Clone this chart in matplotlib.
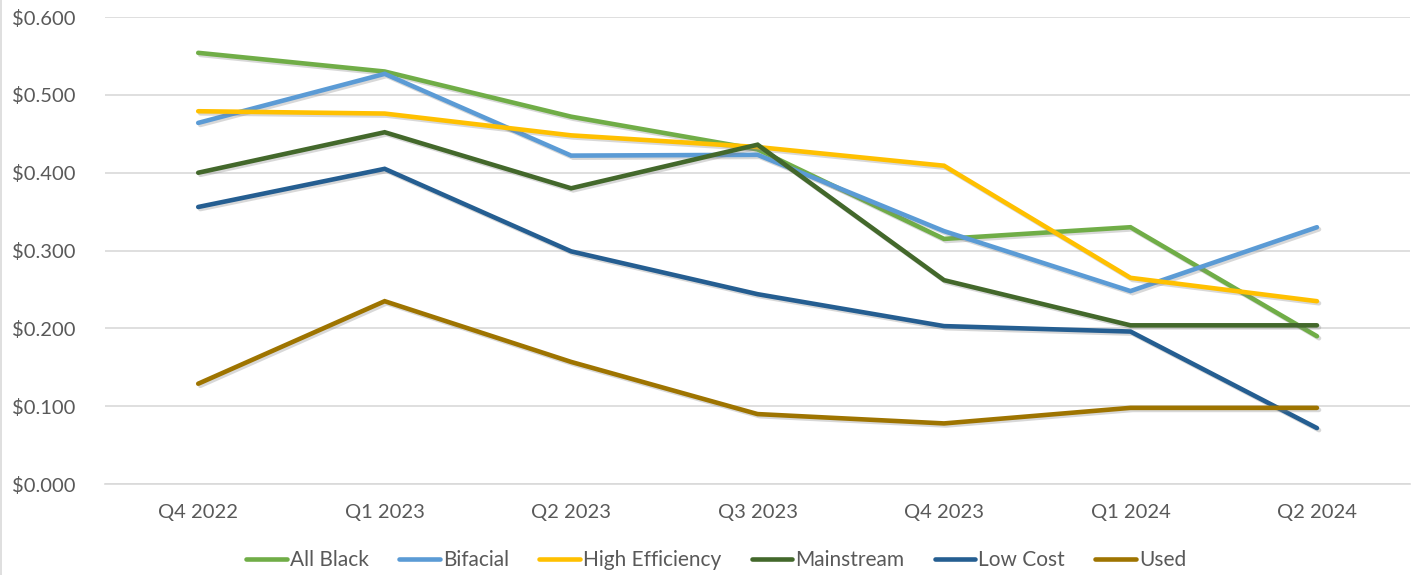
import matplotlib
matplotlib.use("Agg")
import matplotlib.pyplot as plt
import matplotlib.patheffects as pe
from matplotlib.ticker import FuncFormatter

quarters = ["Q4 2022", "Q1 2023", "Q2 2023", "Q3 2023", "Q4 2023", "Q1 2024", "Q2 2024"]
all_black = [0.554, 0.530, 0.472, 0.430, 0.315, 0.330, 0.190]
bifacial = [0.464, 0.527, 0.422, 0.423, 0.325, 0.248, 0.330]
high_eff = [0.479, 0.476, 0.448, 0.433, 0.409, 0.265, 0.235]
mainstream = [0.400, 0.452, 0.380, 0.436, 0.262, 0.204, 0.204]
low_cost = [0.356, 0.405, 0.299, 0.244, 0.203, 0.196, 0.072]
used = [0.129, 0.235, 0.157, 0.090, 0.078, 0.098, 0.098]

series = [
    ("All Black", all_black, "#70AD47"),
    ("Bifacial", bifacial, "#5B9BD5"),
    ("High Efficiency", high_eff, "#FFC000"),
    ("Mainstream", mainstream, "#43682B"),
    ("Low Cost", low_cost, "#255E91"),
    ("Used", used, "#9E7400"),
]

plt.rcParams['font.family'] = ['Lato', 'DejaVu Sans']

fig = plt.figure(figsize=(14.13, 5.75), dpi=100)
ax = fig.add_axes([0.0743, 0.158, 0.9237, 0.8124])

x = list(range(len(quarters)))
shadow = [pe.SimpleLineShadow(offset=(1.5, -1.5), shadow_color="gray", alpha=0.3), pe.Normal()]
for name, vals, col in series:
    ax.plot(x, vals, color=col, lw=3.3, label=name, solid_capstyle="round",
            solid_joinstyle="miter", path_effects=shadow)

ax.set_xlim(-0.5, 6.5)
ax.set_ylim(0, 0.6)
ax.set_yticks([0, 0.1, 0.2, 0.3, 0.4, 0.5, 0.6])
ax.yaxis.set_major_formatter(FuncFormatter(lambda v, p: f"${v:.3f}"))
ax.set_xticks(x)
ax.set_xticklabels(quarters)
ax.grid(axis="y", color="#D9D9D9", lw=1.2)
ax.set_axisbelow(True)
for s in ["top", "right", "left"]:
    ax.spines[s].set_visible(False)
ax.spines["bottom"].set_color("#D9D9D9")
ax.spines["bottom"].set_linewidth(1.2)
ax.tick_params(axis="both", length=0, labelsize=14.5, labelcolor="#595959")
ax.tick_params(axis="x", pad=14)
ax.tick_params(axis="y", pad=67)
for lbl in ax.get_yticklabels():
    lbl.set_horizontalalignment("left")

leg = fig.legend(loc="center", bbox_to_anchor=(0.507, 0.026), ncol=6, frameon=False,
                 fontsize=15, handlelength=1.95, handletextpad=0.15, columnspacing=1.45,
                 labelcolor="#595959")
for h in leg.get_lines():
    h.set_linewidth(3.3)
    h.set_path_effects([])

fig.add_artist(plt.Line2D([0.0007, 0.0007], [0, 1], color="#D9D9D9", lw=1.2, transform=fig.transFigure))

fig.savefig("out.png", dpi=100)
